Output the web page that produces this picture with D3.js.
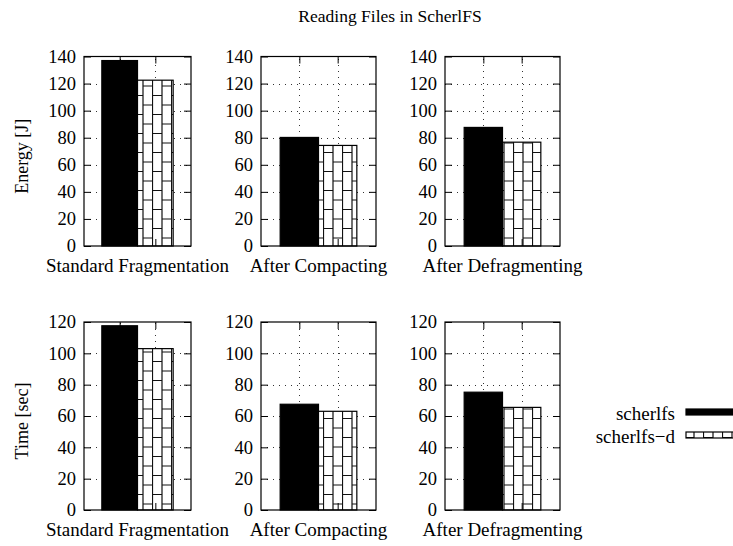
<!DOCTYPE html>
<html>
<head>
<meta charset="utf-8">
<script src="https://cdn.jsdelivr.net/npm/d3@7"></script>
<style>
  body { margin: 0; background: #fff; }
  text { font-family: "Liberation Serif", "Times New Roman", serif; fill: #000; }
</style>
</head>
<body>
<div id="target"></div>
<script>
var title = "Reading Files in ScherlFS";
var phases = ["Standard Fragmentation", "After Compacting", "After Defragmenting"];
var seriesNames = ["scherlfs", "scherlfs\u2212d"];
var energy = [[137, 122.5], [80.2, 74.3], [87.6, 76.7]];
var time = [[117.6, 103], [67.5, 63], [75.2, 65.5]];
var energyTicks = [0, 20, 40, 60, 80, 100, 120, 140];
var timeTicks = [0, 20, 40, 60, 80, 100, 120];

var width = 733, height = 546;
var colLeft = [84, 261, 445];
var colWidth = [107, 115, 115];
var rows = [
  {top: 56.5, h: 189.5, data: energy, ticks: energyTicks, label: "Energy [J]"},
  {top: 322, h: 188, data: time, ticks: timeTicks, label: "Time [sec]"}
];

var svg = d3.select("#target").append("svg")
  .attr("width", width)
  .attr("height", height);

var defs = svg.append("defs");
var pat = defs.append("pattern")
  .attr("id", "brick")
  .attr("patternUnits", "userSpaceOnUse")
  .attr("width", 19)
  .attr("height", 19);
pat.append("rect").attr("width", 19).attr("height", 19).attr("fill", "#fff");
pat.append("path")
  .attr("d", "M0.5,0V19M10,0V19M0,0.5H10M10,10H19")
  .attr("stroke", "#111")
  .attr("stroke-width", 1.2)
  .attr("fill", "none");

svg.append("text")
  .attr("x", 390)
  .attr("y", 22)
  .attr("text-anchor", "middle")
  .style("font-size", "17.5px")
  .text(title);

rows.forEach(function(row, r) {
  var y = d3.scaleLinear()
    .domain([0, d3.max(row.ticks)])
    .range([row.top + row.h, row.top]);

  svg.append("text")
    .attr("transform", "translate(28," + (row.top + row.h / 2 + 5) + ") rotate(-90)")
    .attr("text-anchor", "middle")
    .style("font-size", "18px")
    .text(row.label);

  phases.forEach(function(phase, c) {
    var x = d3.scaleLinear()
      .domain([-1, 2])
      .range([colLeft[c], colLeft[c] + colWidth[c]]);
    var g = svg.append("g");

    // dotted grid
    g.selectAll(".hgrid")
      .data(row.ticks.slice(1, -1))
      .enter().append("line")
      .attr("x1", x(-1)).attr("x2", x(2))
      .attr("y1", d => Math.round(y(d)) + 0.5)
      .attr("y2", d => Math.round(y(d)) + 0.5)
      .attr("stroke", "#333")
      .attr("stroke-dasharray", "1,5");
    g.selectAll(".vgrid")
      .data([0, 1])
      .enter().append("line")
      .attr("x1", d => Math.round(x(d)) + 0.5)
      .attr("x2", d => Math.round(x(d)) + 0.5)
      .attr("y1", y.range()[0]).attr("y2", y.range()[1])
      .attr("stroke", "#333")
      .attr("stroke-dasharray", "1,5");

    // bars
    g.selectAll(".bar")
      .data(row.data[c])
      .enter().append("rect")
      .attr("x", (d, i) => x(i - 0.5))
      .attr("width", (d, i) => x(i + 0.5) - x(i - 0.5))
      .attr("y", d => y(d))
      .attr("height", d => y(0) - y(d))
      .attr("fill", (d, i) => i === 0 ? "#000" : "url(#brick)")
      .attr("stroke", "#000")
      .attr("stroke-width", 1.2);

    // axes with inward ticks
    g.append("g")
      .attr("transform", "translate(" + x(-1) + ",0)")
      .call(d3.axisLeft(y).tickValues(row.ticks).tickSize(-7).tickPadding(8))
      .call(a => a.select(".domain").remove())
      .call(a => a.selectAll("text").style("font-size", "18.5px").attr("font-family", null));
    g.append("g")
      .attr("transform", "translate(" + x(2) + ",0)")
      .call(d3.axisRight(y).tickValues(row.ticks).tickSize(-7).tickFormat(""))
      .call(a => a.select(".domain").remove());
    g.append("g")
      .attr("transform", "translate(0," + y(0) + ")")
      .call(d3.axisBottom(x).tickValues([0, 1]).tickSize(-7).tickFormat(""))
      .call(a => a.select(".domain").remove());
    g.append("g")
      .attr("transform", "translate(0," + y.range()[1] + ")")
      .call(d3.axisTop(x).tickValues([0, 1]).tickSize(-7).tickFormat(""))
      .call(a => a.select(".domain").remove());

    g.append("rect")
      .attr("x", x(-1)).attr("y", y.range()[1])
      .attr("width", x(2) - x(-1)).attr("height", y(0) - y.range()[1])
      .attr("fill", "none")
      .attr("stroke", "#000")
      .attr("stroke-width", 1.2);

    g.append("text")
      .attr("x", (x(-1) + x(2)) / 2)
      .attr("y", y(0) + 26)
      .attr("text-anchor", "middle")
      .style("font-size", "19px")
      .text(phase);
  });
});

// legend
var legend = svg.append("g");
var ly = d3.scalePoint().domain(seriesNames).range([414, 437]);
legend.selectAll("text")
  .data(seriesNames)
  .enter().append("text")
  .attr("x", 675)
  .attr("y", d => ly(d) + 6)
  .attr("text-anchor", "end")
  .style("font-size", "19px")
  .text(d => d);
legend.selectAll("rect")
  .data(seriesNames)
  .enter().append("rect")
  .attr("x", 686)
  .attr("y", d => ly(d) - 5)
  .attr("width", 50)
  .attr("height", 6)
  .attr("fill", (d, i) => i === 0 ? "#000" : "url(#brick)")
  .attr("stroke", "#000")
  .attr("stroke-width", 1.2);
</script>
</body>
</html>
